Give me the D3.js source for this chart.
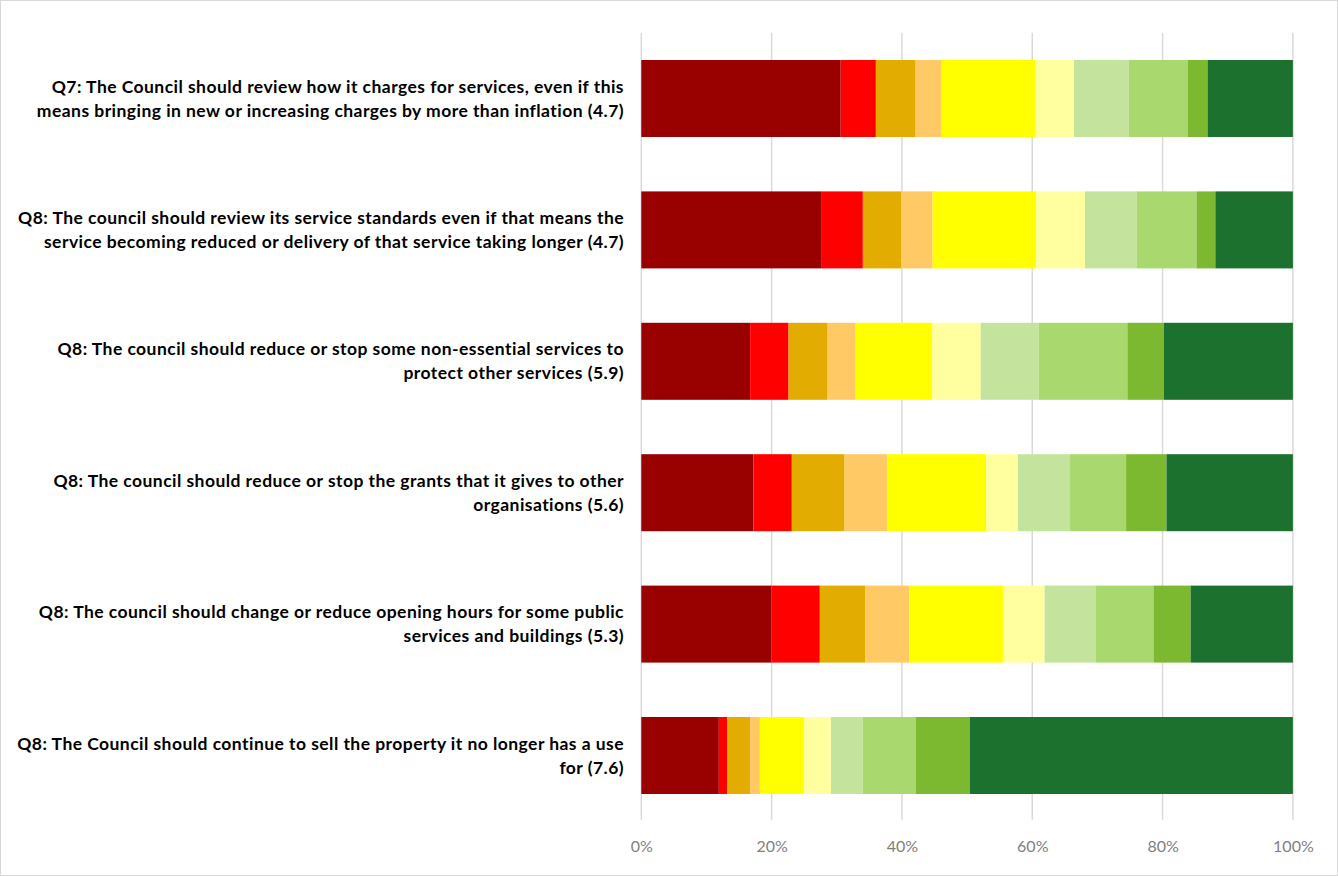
<!DOCTYPE html>
<html>
<head>
<meta charset="utf-8">
<script src="https://cdn.jsdelivr.net/npm/d3@7"></script>
<style>
  html, body { margin: 0; padding: 0; background: #fff; }
  svg { display: block; }
</style>
</head>
<body>
<svg id="chart" width="1338" height="876"></svg>
<script>
// ---- Data ----
const categories = [
  ["Q7: The Council should review how it charges for services, even if this", "means bringing in new or increasing charges by more than inflation (4.7)"],
  ["Q8: The council should review its service standards even if that means the", "service becoming reduced or delivery of that service taking longer (4.7)"],
  ["Q8: The council should reduce or stop some non-essential services to", "protect other services (5.9)"],
  ["Q8: The council should reduce or stop the grants that it gives to other", "organisations (5.6)"],
  ["Q8: The council should change or reduce opening hours for some public", "services and buildings (5.3)"],
  ["Q8: The Council should continue to sell the property it no longer has a use", "for (7.6)"]
];
const seriesNames = ["1", "2", "3", "4", "5", "6", "7", "8", "9", "10"];
const q7Charges   = [30.6, 5.4, 6.1, 4.0, 14.4, 5.9, 8.4, 9.1, 3.0, 13.1];
const q8Standards = [27.7, 6.3, 5.9, 4.8, 15.9, 7.5, 7.9, 9.2, 2.9, 11.9];
const q8NonEssent = [16.7, 5.9, 6.0, 4.3, 11.7, 7.5, 8.9, 13.6, 5.6, 19.8];
const q8Grants    = [17.2, 5.9, 8.1, 6.5, 15.2, 4.9, 8.0, 8.6, 6.2, 19.4];
const q8Hours     = [20.0, 7.4, 7.0, 6.7, 14.4, 6.4, 7.8, 8.9, 5.7, 15.7];
const q8Property  = [11.9, 1.3, 3.5, 1.5, 6.75, 4.15, 4.9, 8.1, 8.3, 49.6];
const rowValues = [q7Charges, q8Standards, q8NonEssent, q8Grants, q8Hours, q8Property];
const tickLabels = ["0%", "20%", "40%", "60%", "80%", "100%"];
const colors = ["#990000", "#FF0000", "#E2AC00", "#FFC966", "#FFFF00", "#FFFFA0", "#C4E49E", "#A8D86E", "#7CB931", "#1B712D"];

// ---- Layout ----
const svg = d3.select("#chart");
const W = 1338, H = 876;
const plot = { left: 641.3, right: 1292.9, top: 32.8, bottom: 821.2 };

svg.append("rect").attr("x", 0.5).attr("y", 0.5).attr("width", W - 1).attr("height", H - 1)
  .attr("fill", "#fff").attr("stroke", "#d9d9d9").attr("stroke-width", 1);

const x = d3.scaleLinear().domain([0, 100]).range([plot.left, plot.right]);
const y = d3.scaleBand().domain(d3.range(categories.length)).range([plot.top, plot.bottom]).paddingInner(0.414).paddingOuter(0.207);

// gridlines
const tickVals = [0, 20, 40, 60, 80, 100];
svg.append("g").selectAll("line").data(tickVals).join("line")
  .attr("x1", d => x(d)).attr("x2", d => x(d))
  .attr("y1", plot.top).attr("y2", plot.bottom - 1.5)
  .attr("stroke", "#d9d9d9").attr("stroke-width", 1.5);

// stacked data
const stacked = rowValues.map((vals, i) => {
  const total = d3.sum(vals);
  let acc = 0;
  return vals.map((v, j) => {
    const p = v / total * 100;
    const seg = { row: i, series: j, x0: acc, x1: acc + p };
    acc += p;
    return seg;
  });
}).flat();

svg.append("g").selectAll("rect").data(stacked).join("rect")
  .attr("x", d => x(d.x0))
  .attr("width", d => x(d.x1) - x(d.x0))
  .attr("y", d => y(d.row))
  .attr("height", y.bandwidth())
  .attr("fill", d => colors[d.series]);

// x axis
const xAxis = d3.axisBottom(x).tickValues(tickVals).tickFormat((d, i) => tickLabels[i]).tickSize(0).tickPadding(0);
const gx = svg.append("g").attr("transform", `translate(0, 846)`).call(xAxis);
gx.select(".domain").remove();
gx.selectAll("text")
  .attr("dy", "0.35em")
  .attr("fill", "#7f7f7f")
  .style("font-family", "Lato, 'Open Sans', sans-serif")
  .style("font-size", "16px");

// category labels
const lbl = svg.append("g");
categories.forEach((lines, i) => {
  const cy = y(i) + y.bandwidth() / 2;
  const t = lbl.append("text")
    .attr("text-anchor", "end")
    .attr("fill", "#000")
    .style("font-family", "Lato, 'Open Sans', sans-serif")
    .style("font-weight", "bold")
    .style("font-size", "17.5px")
    .style("letter-spacing", "0.45px");
  lines.forEach((ln, k) => {
    t.append("tspan")
      .attr("x", 624)
      .attr("y", cy + (k - (lines.length - 1) / 2) * 24)
      .attr("dy", "0.35em")
      .text(ln);
  });
});
</script>
</body>
</html>
